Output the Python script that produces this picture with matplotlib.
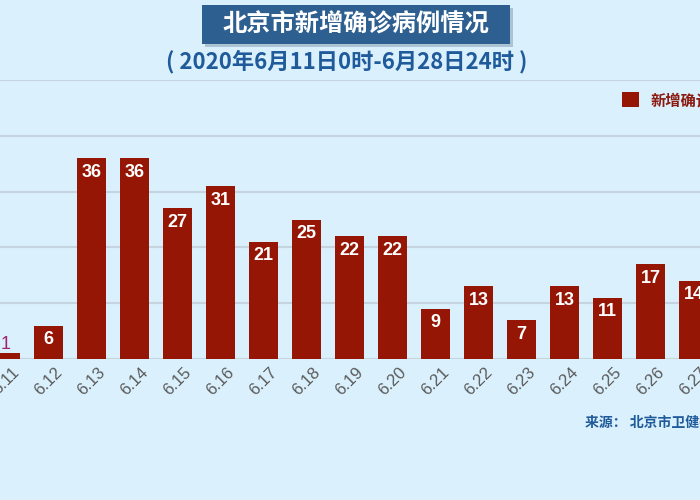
import numpy as np
import matplotlib
matplotlib.use('Agg')
import matplotlib.pyplot as plt
from matplotlib.patches import Rectangle

plt.rcParams['font.family'] = ['Noto Sans CJK SC', 'DejaVu Sans']

# Daily new confirmed cases in Beijing, 6.11 - 6.28
DATES = ['6.11', '6.12', '6.13', '6.14', '6.15', '6.16', '6.17', '6.18', '6.19',
         '6.20', '6.21', '6.22', '6.23', '6.24', '6.25', '6.26', '6.27', '6.28']
NEW_CASES = [1, 6, 36, 36, 27, 31, 21, 25, 22, 22, 9, 13, 7, 13, 11, 17, 14, 7]
GRID_VALUES = [0, 10, 20, 30, 40, 50]

TITLE = '北京市新增确诊病例情况'
SUBTITLE = '( 2020年6月11日0时-6月28日24时 )'
SERIES_NAME = '新增确诊病例'
SOURCE = '来源： 北京市卫健委'

BG = '#daf0fd'
BAR = '#951605'
GRID = '#c6d4df'
BLUE = '#1f5a9a'

W, H = 700, 500

fig = plt.figure(figsize=(7, 5), dpi=100, facecolor=BG)

# the chart is cropped on both sides, so the axes span the whole width
ax = fig.add_axes([0, 1 - 359 / H, 1, (359 - 80) / H])
ax.set_facecolor(BG)

x = np.arange(len(DATES))
bars = ax.bar(x, NEW_CASES, width=0.67, color=BAR, zorder=3)

ax.set_xticks(x)
ax.set_xticklabels(DATES, rotation=45, ha='center', va='top',
                   family='Liberation Sans')
ax.set_yticks(GRID_VALUES)
ax.set_xlim(-5.5 / 43, 16 + 6.5 / 43)
ax.set_ylim(0, 50.02)
ax.grid(axis='y', color=GRID, lw=1.5, zorder=0)
ax.tick_params(axis='y', left=False, labelleft=False)
ax.tick_params(axis='x', length=0, pad=4, labelsize=12, labelcolor='#5a5a5a')
for s in ax.spines.values():
    s.set_visible(False)

for xi, v in zip(x, NEW_CASES):
    if v >= 3:
        ax.annotate(str(v), (xi, v), xytext=(0, -4), textcoords='offset points',
                    ha='center', va='top', color='white', fontsize=13,
                    fontweight='bold', family='Liberation Sans', zorder=4)
    else:
        ax.annotate(str(v), (xi, v), xytext=(0, 0.3), textcoords='offset points',
                    ha='center', va='bottom', color='#a0246e', fontsize=13,
                    family='Liberation Sans', zorder=4)

# legend (cut off by the right edge like the original)
ax.legend([bars], [SERIES_NAME], loc='center left',
          bbox_to_anchor=(622 / W, 1 - 100 / H), bbox_transform=fig.transFigure,
          frameon=False, labelcolor='#8b1a10', borderpad=0,
          borderaxespad=0, handlelength=1.1, handleheight=1.1,
          handletextpad=0.8, prop={'weight': 'bold', 'size': 11})

# title box with a soft shadow
fig.patches.append(Rectangle((205 / W, 1 - 47 / H), 308 / W, 39 / H,
                             transform=fig.transFigure, facecolor='#7f97ad',
                             alpha=0.5, zorder=1))
fig.patches.append(Rectangle((202 / W, 1 - 44 / H), 308 / W, 39 / H,
                             transform=fig.transFigure, facecolor='#2d5f90',
                             zorder=2))
fig.text(356 / W, 1 - 25 / H, TITLE, ha='center', va='center', color='white',
         fontsize=17.5, fontweight='bold', zorder=3)
fig.text(347 / W, 1 - 62 / H, SUBTITLE, ha='center', va='center', color=BLUE,
         fontsize=16, fontweight='bold')
fig.text(585 / W, 1 - 423 / H, SOURCE, ha='left', va='center', color=BLUE,
         fontsize=10, fontweight='bold')

fig.savefig('out.png', dpi=100, facecolor=BG)
